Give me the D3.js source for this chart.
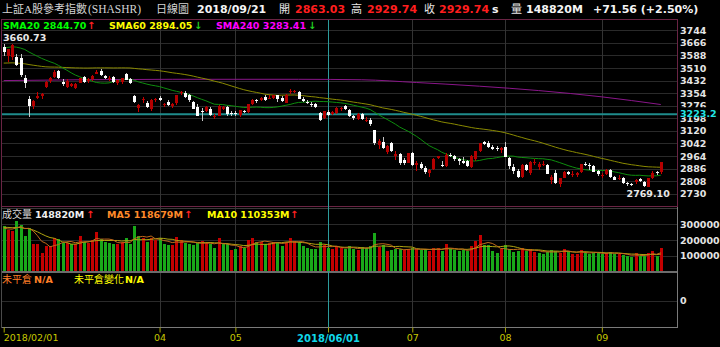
<!DOCTYPE html>
<html><head><meta charset="utf-8">
<script src="https://cdn.jsdelivr.net/npm/d3@7"></script>
<style>html,body{margin:0;padding:0;background:#000;overflow:hidden}</style>
</head><body>
<svg id="c" width="720" height="347"></svg>
<script>
// ---------------- DATA ----------------
const dates = [
"02/01","02/02","02/05","02/06","02/07","02/08","02/09","02/12","02/13","02/14","02/22","02/23","02/26","02/27","02/28",
"03/01","03/02","03/05","03/06","03/07","03/08","03/09","03/12","03/13","03/14","03/15","03/16","03/19","03/20","03/21","03/22","03/23","03/26","03/27","03/28","03/29","03/30",
"04/02","04/03","04/04","04/09","04/10","04/11","04/12","04/13","04/16","04/17","04/18","04/19","04/20","04/23","04/24","04/25","04/26","04/27",
"05/02","05/03","05/04","05/07","05/08","05/09","05/10","05/11","05/14","05/15","05/16","05/17","05/18","05/21","05/22","05/23","05/24","05/25","05/28","05/29","05/30","05/31",
"06/01","06/04","06/05","06/06","06/07","06/08","06/11","06/12","06/13","06/14","06/15","06/19","06/20","06/21","06/22","06/25","06/26","06/27","06/28","06/29",
"07/02","07/03","07/04","07/05","07/06","07/09","07/10","07/11","07/12","07/13","07/16","07/17","07/18","07/19","07/20","07/23","07/24","07/25","07/26","07/27","07/30","07/31",
"08/01","08/02","08/03","08/06","08/07","08/08","08/09","08/10","08/13","08/14","08/15","08/16","08/17","08/20","08/21","08/22","08/23","08/24","08/27","08/28","08/29","08/30","08/31",
"09/03","09/04","09/05","09/06","09/07","09/10","09/11","09/12","09/13","09/14","09/17","09/18","09/19","09/20","09/21"];

const open = [
3642,3582,3580,3578,3575,3445,3320,3272,3326,3338,3390,3428,3455,3493,3425,
3395,3400,3385,3420,3452,3428,3440,3475,3490,3462,3440,3452,3420,3426,3470,3440,3335,3262,3310,3290,3255,3312,
3325,3278,3298,3272,3290,3352,3358,3345,3300,3265,3245,3242,3258,3208,3215,3255,3268,3230,
3232,3220,3245,3238,3285,3310,3312,3330,3318,3325,3340,3325,3295,3360,3362,3360,3320,3302,3288,3284,3228,3200,
3240,3225,3232,3255,3275,3250,3212,3195,3222,3180,3190,3125,3030,3052,2990,3042,2965,2975,2938,2923,
2981,2905,2913,2892,2857,2882,2950,2910,2900,2968,2965,2945,2935,2930,2895,2945,2995,3050,3045,3020,3012,3000,
3022,2950,2898,2872,2832,2905,2858,2918,2898,2910,2908,2815,2860,2792,2830,2862,2845,2848,2862,2915,2910,2900,2868,
2838,2850,2878,2835,2822,2830,2795,2792,2800,2820,2805,2772,2828,2862,2863.03];

const high = [
3660.73,3627,3656,3598,3598,3467,3335,3313,3361,3356,3428,3452,3495,3500,3442,
3440,3420,3418,3450,3462,3447,3466,3500,3502,3468,3458,3460,3438,3450,3480,3450,3345,3288,3330,3305,3318,3325,
3338,3292,3310,3292,3345,3370,3368,3350,3305,3285,3262,3275,3265,3225,3282,3272,3275,3245,
3245,3250,3252,3285,3318,3318,3330,3340,3345,3345,3345,3335,3348,3380,3372,3368,3328,3310,3300,3292,3235,3245,
3252,3245,3265,3268,3282,3255,3218,3228,3230,3205,3200,3128,3070,3080,3030,3050,2995,2985,2950,2985,
2990,2935,2925,2900,2885,2950,2965,2930,2982,2985,2972,2950,2955,2940,2968,2998,3045,3058,3055,3032,3025,3018,
3048,2955,2912,2885,2912,2912,2930,2945,2925,2930,2915,2845,2875,2830,2868,2870,2868,2866,2915,2925,2918,2910,2875,
2858,2885,2885,2842,2845,2835,2805,2798,2820,2830,2808,2830,2868,2870,2929.74];

const low = [
3586,3548,3557,3523,3452,3386,3207,3254,3320,3320,3385,3418,3450,3440,3400,
3388,3390,3380,3415,3420,3418,3430,3470,3462,3440,3432,3420,3402,3410,3435,3412,3290,3240,3295,3260,3245,3300,
3305,3268,3272,3262,3280,3345,3325,3300,3255,3210,3183,3235,3210,3195,3212,3248,3215,3210,
3215,3208,3230,3232,3280,3292,3305,3308,3315,3318,3296,3300,3290,3350,3352,3316,3298,3285,3270,3260,3180,3195,
3210,3220,3225,3245,3252,3205,3185,3188,3188,3175,3150,3030,3005,3005,2975,2990,2940,2910,2905,2920,
2900,2870,2885,2855,2834,2878,2945,2895,2895,2955,2935,2910,2915,2898,2890,2935,2990,3030,3015,3000,2995,2985,
2955,2885,2850,2825,2828,2868,2845,2905,2875,2900,2850,2790,2790,2770,2825,2845,2835,2835,2858,2900,2880,2862,2840,
2830,2845,2828,2812,2815,2792,2778,2775,2790,2800,2772,2769.10,2820,2848,2855];

const close = [
3610,3626,3652,3529,3466,3416,3277,3303,3335,3350,3423,3445,3487,3448,3413,
3429,3408,3410,3445,3426,3444,3463,3483,3467,3448,3447,3424,3434,3447,3436,3417,3301,3282,3317,3271,3311,3319,
3313,3285,3279,3286,3341,3361,3331,3309,3258,3212,3237,3265,3216,3214,3277,3265,3222,3228,
3227,3248,3237,3284,3310,3308,3324,3313,3324,3344,3320,3304,3344,3366,3366,3319,3304,3290,3283,3268,3185,3241,
3221,3238,3261,3262,3257,3212,3197,3226,3194,3188,3165,3045,3054,3012,3027,2995,2978,2918,2919,2982,
2907,2918,2891,2863,2877,2948,2961,2908,2971,2965,2947,2930,2919,2904,2963,2994,3042,3040,3018,3009,3005,3012,
2958,2899,2870,2833,2910,2874,2927,2927,2917,2913,2852,2833,2795,2826,2862,2850,2854,2858,2913,2908,2900,2866,2854,
2849,2880,2833,2818,2830,2795,2790,2783,2813,2809,2776,2828,2859,2858,2929.74];

const volume = [
291000,264000,257000,321000,296000,225000,274000,172000,172000,115000,162000,162000,211000,204000,183000,
183000,172000,172000,225000,189000,183000,200000,253000,204000,189000,183000,172000,172000,189000,211000,177000,291000,225000,211000,189000,211000,200000,
211000,172000,167000,167000,220000,200000,183000,172000,167000,183000,194000,183000,172000,147000,211000,172000,172000,136000,
140000,160000,150000,200000,215000,190000,185000,175000,180000,190000,185000,160000,190000,215000,195000,185000,160000,150000,140000,145000,185000,170000,
150000,140000,160000,150000,145000,160000,140000,135000,157000,151000,164000,243000,157000,168000,132000,136000,143000,143000,136000,141000,
151000,140000,136000,143000,130000,147000,150000,132000,173000,140000,135000,130000,135000,130000,160000,194000,232000,170000,165000,130000,120000,145000,
165000,140000,125000,130000,150000,130000,140000,125000,120000,112000,125000,135000,128000,118000,145000,125000,110000,112000,135000,120000,110000,120000,118000,
110000,118000,125000,108000,112000,105000,98000,92000,115000,100135,100000,118000,130000,96575,148820];

// closes / volumes before 2018/02/01 (needed for the moving averages)
const priorCloses = [
3589,3595,3611,3592,3564,3561,3543,3553,3572,3592,3511,3512,3479,3491,3495,3474,
3475,3467,3459,3450,3427,3445,3479,3435,3459,3448,3421,3423,3453,3442,3456,3453,3435,3462,3430,3452,3463,
3507,3528,3546,3552,3570,3576,3583,3587,3591,3572,3600,3607,3638,3653,3667,3714,3728,3717,3726,3691,3653,3646];
const priorVolumes = [268000,275000,310000,295000,280000,290000,262000,285000,250000];

// SMA240 at a few dates
const sma240Dates = ["02/01","04/09","05/23","06/13","07/03","07/12","07/24","08/13","09/03","09/21"];
const sma240Vals  = [3432,3440,3440,3437,3420,3410,3397,3370,3331,3283.41];

const priceTicks = [3744,3666,3588,3510,3432,3354,3276,3198,3120,3042,2964,2886,2808,2730];
const volTicks = [100000,200000,300000];
const axisDates  = ["02/01","04/02","05/02","06/01","07/02","08/01","09/03"];
const axisLabels = ["2018/02/01","04","05","2018/06/01","07","08","09"];
const cursorDate = "06/01";
const cursorPrice = 3223.2;

const titleText = ["上証A股參考指數","(SHASHR)","日線圖"];
const headDate = "2018/09/21";
const headOpen = "2863.03", headHigh = "2929.74", headClose = "2929.74";
const headVol = "148820M", headChg = "+71.56 (+2.50%)";
const smaLabels = ["SMA20 2844.70","SMA60 2894.05","SMA240 3283.41"];
const smaDirs = ["up","down","down"];
const volLabels = ["148820M","MA5 118679M","MA10 110353M"];

// ---------------- DRAW ----------------
const svg = d3.select("#c");
svg.append("rect").attr("width",720).attr("height",347).attr("fill","#000");
const N = dates.length;
const x = d3.scalePoint().domain(d3.range(N)).range([3.7,660.8]);
const xc = i => Math.round(x(i)) + 0.5;
const y = d3.scaleLinear().domain([2730,3744]).range([193.7,30.3]);
const yv = d3.scaleLinear().domain([0,300000]).range([271.4,224.3]);
const yb = d3.scaleLinear().domain([-1,1]).range([327,274.4]);
const R = 677;
const BOLD = "DejaVu Sans";
const CJK = "'Noto Sans CJK TC'";

const grid = svg.append("g").attr("shape-rendering","crispEdges");
grid.selectAll(".hp").data(priceTicks).join("line")
  .attr("x1",1).attr("x2",R).attr("y1",d=>Math.round(y(d))+0.5).attr("y2",d=>Math.round(y(d))+0.5)
  .attr("stroke","#2a2a2a");
grid.selectAll(".hv").data(volTicks).join("line")
  .attr("x1",1).attr("x2",R).attr("y1",d=>Math.round(yv(d))+0.5).attr("y2",d=>Math.round(yv(d))+0.5)
  .attr("stroke","#2a2a2a");
grid.append("line").attr("x1",1).attr("x2",R).attr("y1",Math.round(yb(0))+0.5).attr("y2",Math.round(yb(0))+0.5).attr("stroke","#2a2a2a");

const tickIdx = axisDates.map(d=>dates.indexOf(d));
const cIdx = dates.indexOf(cursorDate);
grid.selectAll(".vm").data(tickIdx.filter(i=>i>0 && i!==cIdx)).join("line")
  .attr("x1",xc).attr("x2",xc).attr("y1",20).attr("y2",327).attr("stroke","#333333");

// frames
const fr = svg.append("g").attr("shape-rendering","crispEdges").attr("fill","none");
fr.append("rect").attr("x",1.5).attr("y",19.5).attr("width",R-1.5).attr("height",187).attr("stroke","#6a2444");
fr.append("line").attr("x1",1).attr("x2",R).attr("y1",208.5).attr("y2",208.5).attr("stroke","#3a3a3a");
fr.append("line").attr("x1",1).attr("x2",R).attr("y1",272).attr("y2",272).attr("stroke","#6c6c6c").attr("stroke-width",2);
fr.append("line").attr("x1",1).attr("x2",R+0.5).attr("y1",327.5).attr("y2",327.5).attr("stroke","#7a7a7a");
fr.append("line").attr("x1",R+0.5).attr("x2",R+0.5).attr("y1",207).attr("y2",327.5).attr("stroke","#7a7a7a");
fr.append("line").attr("x1",1.5).attr("x2",1.5).attr("y1",207).attr("y2",327.5).attr("stroke","#4a4a4a");

// cursor
svg.append("line").attr("x1",xc(cIdx)).attr("x2",xc(cIdx)).attr("y1",20).attr("y2",327)
  .attr("stroke","#2c9c9c").attr("shape-rendering","crispEdges");
svg.append("line").attr("x1",2).attr("x2",R).attr("y1",y(cursorPrice)).attr("y2",y(cursorPrice))
  .attr("stroke","#1f8c8c").attr("stroke-width",2);

// moving averages
const allC = priorCloses.concat(close);
const P = priorCloses.length;
const sma = n => close.map((_,i)=>d3.mean(allC.slice(P+i-n+1,P+i+1)));
const sma20 = sma(20), sma60 = sma(60);
const allV = priorVolumes.concat(volume);
const PV = priorVolumes.length;
const vma = n => volume.map((_,i)=>d3.mean(allV.slice(PV+i-n+1,PV+i+1)));
const vma5 = vma(5), vma10 = vma(10);

const lineP = d3.line().x((d,i)=>x(i)).y(d=>y(d));
const line240 = d3.line().x(d=>x(dates.indexOf(d[0]))).y(d=>y(d[1])).curve(d3.curveMonotoneX);
svg.append("path").attr("d",line240(sma240Dates.map((d,k)=>[d,sma240Vals[k]]))).attr("fill","none").attr("stroke","#8a168a");
svg.append("path").attr("d",lineP(sma60)).attr("fill","none").attr("stroke","#8a8a00");
svg.append("path").attr("d",lineP(sma20)).attr("fill","none").attr("stroke","#0e8e0e");

// candles
const cg = svg.append("g").attr("shape-rendering","crispEdges");
const idx = d3.range(N);
cg.selectAll(".w").data(idx).join("line")
  .attr("x1",xc).attr("x2",xc).attr("y1",i=>y(high[i])).attr("y2",i=>y(low[i]))
  .attr("stroke",i=>close[i]>=open[i]?"#c80000":"#c8c8c8");
cg.selectAll(".b").data(idx).join("rect")
  .attr("x",i=>xc(i)-1.5).attr("width",3)
  .attr("y",i=>Math.round(y(Math.max(open[i],close[i]))))
  .attr("height",i=>Math.max(1,Math.round(y(Math.min(open[i],close[i])))-Math.round(y(Math.max(open[i],close[i])))))
  .attr("fill",i=>close[i]>=open[i]?"#b40000":"#ffffff");

// volume bars
const prevClose = i => i===0 ? priorCloses[P-1] : close[i-1];
svg.append("g").attr("shape-rendering","crispEdges").selectAll("rect").data(idx).join("rect")
  .attr("x",i=>xc(i)-1.5).attr("width",3)
  .attr("y",i=>yv(volume[i])).attr("height",i=>yv(0)-yv(volume[i]))
  .attr("fill",i=>close[i]>=prevClose(i)?"#c40000":"#19a819");
const lineV = d3.line().x((d,i)=>x(i)).y(d=>yv(d));
svg.append("path").attr("d",lineV(vma10)).attr("fill","none").attr("stroke","#b0a410");
svg.append("path").attr("d",lineV(vma5)).attr("fill","none").attr("stroke","#c06a1c");

// axes
function styleAxis(g, col){
  g.select(".domain").remove();
  g.attr("font-family",BOLD).attr("font-size",9.5).attr("font-weight","bold");
  g.selectAll("text").attr("fill",col);
}
const ay = svg.append("g").attr("transform",`translate(${R},0)`)
  .call(d3.axisRight(y).tickValues(priceTicks).tickSize(0).tickPadding(3).tickFormat(d3.format("d")));
styleAxis(ay,"#e4e4e4");
const av = svg.append("g").attr("transform",`translate(${R},0)`)
  .call(d3.axisRight(yv).tickValues(volTicks).tickSize(0).tickPadding(3).tickFormat(d3.format("d")));
styleAxis(av,"#e4e4e4");
const ab0 = svg.append("g").attr("transform",`translate(${R},0)`)
  .call(d3.axisRight(yb).tickValues([0]).tickSize(0).tickPadding(3).tickFormat(d3.format("d")));
styleAxis(ab0,"#e4e4e4");

// cursor price label (drawn over the 3198 label, as in the original)
const cy = y(cursorPrice);
svg.append("rect").attr("x",R+1).attr("y",cy-7).attr("width",43).attr("height",10).attr("fill","#000");
svg.append("text").attr("x",R+3).attr("y",cy+2.5).text(String(cursorPrice))
  .attr("font-family",BOLD).attr("font-weight","bold").attr("font-size",9.5).attr("fill","#22e6e6");

// bottom axis
const ax = svg.append("g").attr("transform","translate(0,327.5)")
  .call(d3.axisBottom(x).tickValues(tickIdx).tickSize(5).tickPadding(2).tickFormat((d,k)=>axisLabels[k]));
ax.select(".domain").remove();
ax.attr("font-family","DejaVu Sans").attr("font-size",9.5);
ax.selectAll("line").attr("stroke","#a8a800");
ax.selectAll("text").attr("fill","#c8c800");
ax.selectAll("text").filter(d=>d===0).attr("text-anchor","start").attr("x",-0.5);
ax.selectAll("text").filter(d=>d===cIdx).attr("fill","#10d8e8").attr("font-weight","bold").attr("font-size",10);

// max / min labels
const iMax = d3.maxIndex(high), iMin = d3.minIndex(low);
svg.append("text").attr("x",Math.max(3,x(iMax)-22)).attr("y",y(high[iMax])-2.5).text(high[iMax].toFixed(2))
  .attr("font-family",BOLD).attr("font-weight","bold").attr("font-size",9.5).attr("fill","#e8e8e8");
svg.append("text").attr("x",x(iMin)).attr("text-anchor","middle").attr("y",y(low[iMin])+9.8).text(low[iMin].toFixed(2))
  .attr("font-family",BOLD).attr("font-weight","bold").attr("font-size",9.5).attr("fill","#e8e8e8");

// header texts
function T(xp, yp, s, col, opt={}){
  return svg.append("text").attr("x",xp).attr("y",yp).text(s).attr("fill",col)
    .attr("font-family",opt.f||BOLD).attr("font-weight",opt.w||"bold").attr("font-size",opt.s||11);
}
T(2,13,titleText[0],"#d4d4d4",{f:"'Liberation Serif',"+CJK,w:"normal",s:11});
T(88,13,titleText[1],"#d4d4d4",{f:"'Liberation Serif'",w:"normal",s:11.5});
T(156,13,titleText[2],"#d4d4d4",{f:CJK,w:"normal",s:11});
T(197,13,headDate,"#f4f4f4");
T(279,13,"開","#e8e8e8",{f:CJK,w:"normal",s:11});
T(295,13,headOpen,"#ff1e1e");
T(351,13,"高","#e8e8e8",{f:CJK,w:"normal",s:11});
T(367,13,headHigh,"#ff1e1e");
T(424,13,"收","#e8e8e8",{f:CJK,w:"normal",s:11});
T(439,13,headClose,"#ff1e1e");
T(492,13,"s","#f4f4f4");
T(511,13,"量","#e8e8e8",{f:CJK,w:"normal",s:11});
T(526,13,headVol,"#f4f4f4");
T(593,13,headChg,"#f4f4f4");

const arrow = (xp,yp,dir) => T(xp,yp,dir==="up"?"↑":"↓",dir==="up"?"#ff2020":"#20d020",{s:10});
const smaX = [3,109,216], smaCol = ["#00ff00","#ffff00","#ff00ff"], smaArrX=[87,194,308];
smaLabels.forEach((s,k)=>{ T(smaX[k],28.5,s,smaCol[k],{s:9.5}); arrow(smaArrX[k],28.5,smaDirs[k]); });

T(2,218,"成交量","#d8d8d8",{f:CJK,w:"normal",s:10});
const volX=[35,107,207], volCol=["#f0f0f0","#ff8a2a","#ffff00"], volArrX=[86,184,290];
volLabels.forEach((s,k)=>{ T(volX[k],218,s,volCol[k],{s:9.5}); arrow(volArrX[k],218,"up"); });

T(2,283,"未平倉","#ff7f27",{f:CJK,w:"normal",s:10});
T(34,283,"N/A","#ff7f27",{s:9.5});
T(74,283,"未平倉變化","#ffff00",{f:CJK,w:"normal",s:10});
T(125,283,"N/A","#ffff00",{s:9.5});
</script>
</body></html>
